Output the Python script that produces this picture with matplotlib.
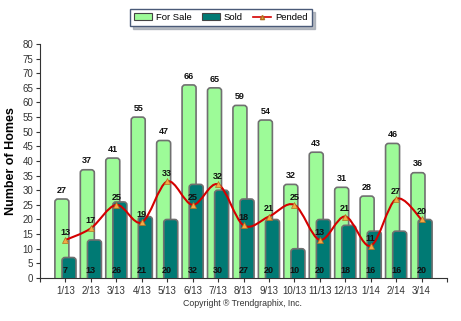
import numpy as np
import matplotlib as mpl
mpl.use('Agg')
import matplotlib.pyplot as plt
from matplotlib.patches import FancyBboxPatch, Patch
from matplotlib.path import Path
from matplotlib.patches import PathPatch
from matplotlib.lines import Line2D

# Monthly inventory figures
months = ['1/13', '2/13', '3/13', '4/13', '5/13', '6/13', '7/13', '8/13',
          '9/13', '10/13', '11/13', '12/13', '1/14', '2/14', '3/14']
forSale = [27, 37, 41, 55, 47, 66, 65, 59, 54, 32, 43, 31, 28, 46, 36]
sold = [7, 13, 26, 21, 20, 32, 30, 27, 20, 10, 20, 18, 16, 16, 20]
pended = [13, 17, 25, 19, 33, 25, 32, 18, 21, 25, 13, 21, 11, 27, 20]

saleColor = '#9dfb98'
soldColor = '#007a74'
lineColor = '#d40000'
markerColor = '#f5a845'
edgeColor = '#707070'

plt.rcParams['font.family'] = ['Liberation Sans', 'DejaVu Sans']

fig = plt.figure(figsize=(4.61, 3.21), dpi=100)
ax = fig.add_axes([0.0868, 0.134, 0.8828, 0.729])
ax.set_xlim(-1, 15)
ax.set_ylim(0, 80)

x = np.arange(len(months))
barWidth = 0.55
offset = 0.14
# px per data unit, used to keep the corner rounding circular
aspect = (25.4 / 2.93)


def rounded_bar(xc, top, color, zorder):
    bottom = -3
    box = FancyBboxPatch((xc - barWidth / 2, bottom), barWidth, top - bottom,
                         boxstyle="round,pad=0,rounding_size=0.12",
                         mutation_aspect=aspect,
                         facecolor=color, edgecolor=edgeColor,
                         linewidth=1.2, zorder=zorder)
    ax.add_patch(box)


for i in range(len(months)):
    rounded_bar(x[i] - offset, forSale[i], saleColor, 2)
    rounded_bar(x[i] + offset, sold[i], soldColor, 3)
    ax.text(x[i] - offset, forSale[i] + 3, str(forSale[i]), ha='center',
            va='center', fontsize=6.5, fontweight='bold', color='#111111')
    ax.text(x[i], 2.5, str(sold[i]), ha='center', va='center',
            fontsize=6.5, fontweight='bold', color='#111111', zorder=6)

# Smooth pended curve (Catmull-Rom converted to cubic Bezier segments)
px = np.array(x, dtype=float)
py = np.array(pended, dtype=float)
verts = [(px[0], py[0])]
codes = [Path.MOVETO]
n = len(px)
for i in range(n - 1):
    p0 = (px[max(i - 1, 0)], py[max(i - 1, 0)])
    p1 = (px[i], py[i])
    p2 = (px[i + 1], py[i + 1])
    p3 = (px[min(i + 2, n - 1)], py[min(i + 2, n - 1)])
    c1 = (p1[0] + (p2[0] - p0[0]) / 6, p1[1] + (p2[1] - p0[1]) / 6)
    c2 = (p2[0] - (p3[0] - p1[0]) / 6, p2[1] - (p3[1] - p1[1]) / 6)
    verts += [c1, c2, p2]
    codes += [Path.CURVE4] * 3
ax.add_patch(PathPatch(Path(verts, codes), facecolor='none',
                       edgecolor=lineColor, linewidth=1.5, zorder=4))
ax.plot(x, pended, linestyle='none', marker='^', markersize=5,
        markerfacecolor=markerColor, markeredgecolor='#b07020',
        markeredgewidth=0.5, zorder=5)
for i in range(len(months)):
    ax.text(x[i], pended[i] + 2.6, str(pended[i]), ha='center', va='center',
            fontsize=6.5, fontweight='bold', color='#111111', zorder=6)

# Axes styling
for side in ['top', 'right']:
    ax.spines[side].set_visible(False)
ax.spines['left'].set_color('#333333')
ax.spines['bottom'].set_color('#333333')
ax.set_yticks(range(0, 81, 5))
ax.set_xticks(list(range(-1, 16)))
ax.set_xticklabels([''] + months + [''])
ax.tick_params(axis='both', labelsize=7, colors='#333333', length=3,
               width=0.8, pad=2)
ax.tick_params(axis='x', pad=3)
ax.set_ylabel('Number of Homes', fontsize=9, fontweight='bold', labelpad=4)

handles = [Patch(facecolor=saleColor, edgecolor='#444444', linewidth=0.8),
           Patch(facecolor=soldColor, edgecolor='#444444', linewidth=0.8),
           Line2D([], [], color=lineColor, linewidth=1.2, marker='^',
                  markersize=3, markerfacecolor=markerColor,
                  markeredgecolor='#b07020')]
leg = fig.legend(handles, ['For Sale', 'Sold', 'Pended'], loc='center',
                 bbox_to_anchor=(221 / 461, 1 - 17.5 / 321), ncol=3,
                 fontsize=6.8, frameon=True, fancybox=False,
                 shadow={'color': '#9aa0aa', 'alpha': 0.7},
                 handlelength=1.9, handleheight=0.8, columnspacing=1.1,
                 handletextpad=0.4, borderpad=0.45)
leg.get_frame().set_edgecolor('#4a5a78')
leg.get_frame().set_linewidth(1.0)

fig.text(242 / 461, 1 - 304 / 321, 'Copyright \u00ae Trendgraphix, Inc.',
         ha='center', va='center', fontsize=6.3, color='#333333')

fig.savefig('out.png', dpi=100)
